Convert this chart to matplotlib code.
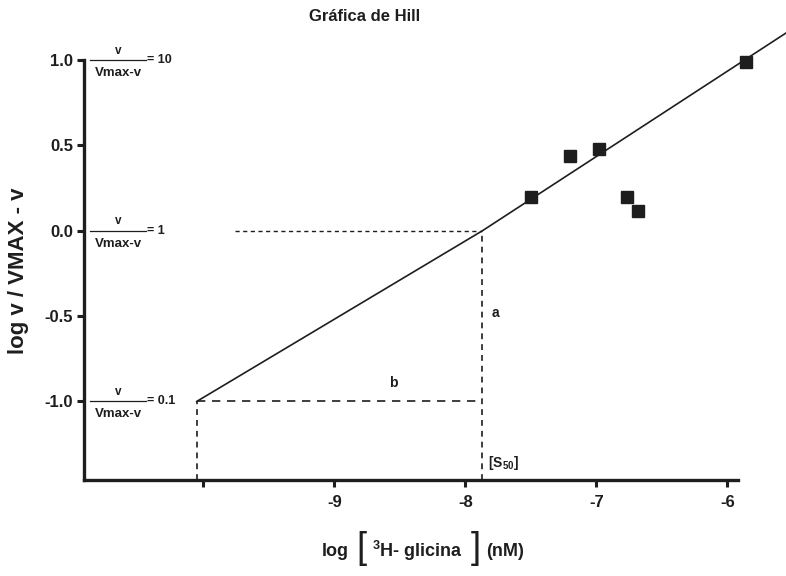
import numpy as np
import matplotlib.pyplot as plt
import matplotlib.transforms as mtransforms

plt.rcParams['font.family'] = ['Liberation Sans Narrow', 'Liberation Sans', 'DejaVu Sans']
plt.rcParams['font.weight'] = 'bold'
plt.rcParams['mathtext.fontset'] = 'custom'
plt.rcParams['mathtext.rm'] = 'Liberation Sans:bold'
plt.rcParams['mathtext.bf'] = 'Liberation Sans:bold'

# Data
log_conc = [-7.50, -7.20, -6.98, -6.77, -6.68, -5.86]
log_ratio = [0.20, 0.44, 0.48, 0.20, 0.115, 0.99]

# Hill fit line
hill_x = [-10.05, -7.87, -5.55]
hill_y = [-1.0, 0.0, 1.16]

s50 = -7.87
x_start = -10.05
ref_levels = [1.0, 0.0, -1.0]
ref_ratios = ['10', '1', '0.1']

x_ticks = [-10, -9, -8, -7, -6]
x_ticklabels = ['', '-9', '-8', '-7', '-6']
y_ticks = [1.0, 0.5, 0.0, -0.5, -1.0]

ink = '#1e1e1e'

fig = plt.figure(figsize=(7.86, 5.76), dpi=100)
ax = fig.add_axes([0.1069, 0.1667, 0.832, 0.7291])
ax.set_xlim(-10.91, -5.92)
ax.set_ylim(-1.46, 1.0)

# fit line and data
ax.plot(hill_x, hill_y, color=ink, lw=1.2, clip_on=False, zorder=3)
ax.plot(log_conc, log_ratio, 's', color=ink, ms=8, clip_on=False, zorder=4)

# construction lines
ax.plot([-9.76, s50], [0, 0], color=ink, lw=1.0, dashes=(3, 2.5))
ax.plot([x_start, s50], [-1, -1], color=ink, lw=1.2, dashes=(5, 4))
ax.plot([s50, s50], [-1.46, 0], color=ink, lw=1.2, dashes=(3.5, 3))
ax.plot([x_start, x_start], [-1.46, -1], color=ink, lw=1.2, dashes=(3.5, 3))

ax.text(-7.80, -0.48, 'a', fontsize=10, fontweight='bold', color=ink, va='center')
ax.text(-8.55, -0.89, 'b', fontsize=10, fontweight='bold', color=ink, ha='center', va='center')
ax.text(-7.83, -1.36, '[S$_{50}$]', fontsize=10, fontweight='bold', color=ink, va='center')

# v / (Vmax - v) ratio notes on the left
blend = mtransforms.blended_transform_factory(ax.transAxes, ax.transData)
for lvl, r in zip(ref_levels, ref_ratios):
    ax.plot([0.009, 0.095], [lvl, lvl], color=ink, lw=0.9, transform=blend, clip_on=False)
    ax.text(0.052, lvl + 0.055, 'v', transform=blend, fontsize=8.5, ha='center', va='center', color=ink)
    ax.text(0.052, lvl - 0.075, 'Vmax-v', transform=blend, fontsize=9.5, ha='center', va='center', color=ink)
    ax.text(0.097, lvl, '= ' + r, transform=blend, fontsize=9, ha='left', va='center', color=ink)

for side in ['top', 'right']:
    ax.spines[side].set_visible(False)
for side in ['left', 'bottom']:
    ax.spines[side].set_linewidth(2.4)
    ax.spines[side].set_color(ink)

ax.set_xticks(x_ticks)
ax.set_xticklabels(x_ticklabels)
ax.set_yticks(y_ticks)
ax.set_yticklabels([f'{v:.1f}' for v in y_ticks])
ax.tick_params(direction='out', length=5, width=2.2, color=ink, labelsize=12, labelcolor=ink, pad=3)
ax.tick_params(axis='x', pad=6)

fig.text(0.464, 0.972, 'Gráfica de Hill', ha='center', va='center', fontsize=12, fontweight='bold', color=ink)
fig.text(0.023, 0.53, 'log v / VMAX - v', rotation=90, ha='center', va='center', fontsize=16, fontweight='bold', color=ink)

# x label built from pieces so the brackets can be tall
ly = 0.043
fig.text(0.4097, ly, 'log', ha='left', va='center', fontsize=13, fontweight='bold', color=ink)
fig.text(0.460, ly + 0.004, '[', ha='center', va='center', fontsize=26, fontweight='normal', color=ink)
fig.text(0.473, ly, r'$^{3}$H- glicina', ha='left', va='center', fontsize=13, fontweight='bold', color=ink)
fig.text(0.6056, ly + 0.004, ']', ha='center', va='center', fontsize=26, fontweight='normal', color=ink)
fig.text(0.618, ly, '(nM)', ha='left', va='center', fontsize=13, fontweight='bold', color=ink)

fig.savefig('out.png', dpi=100)
